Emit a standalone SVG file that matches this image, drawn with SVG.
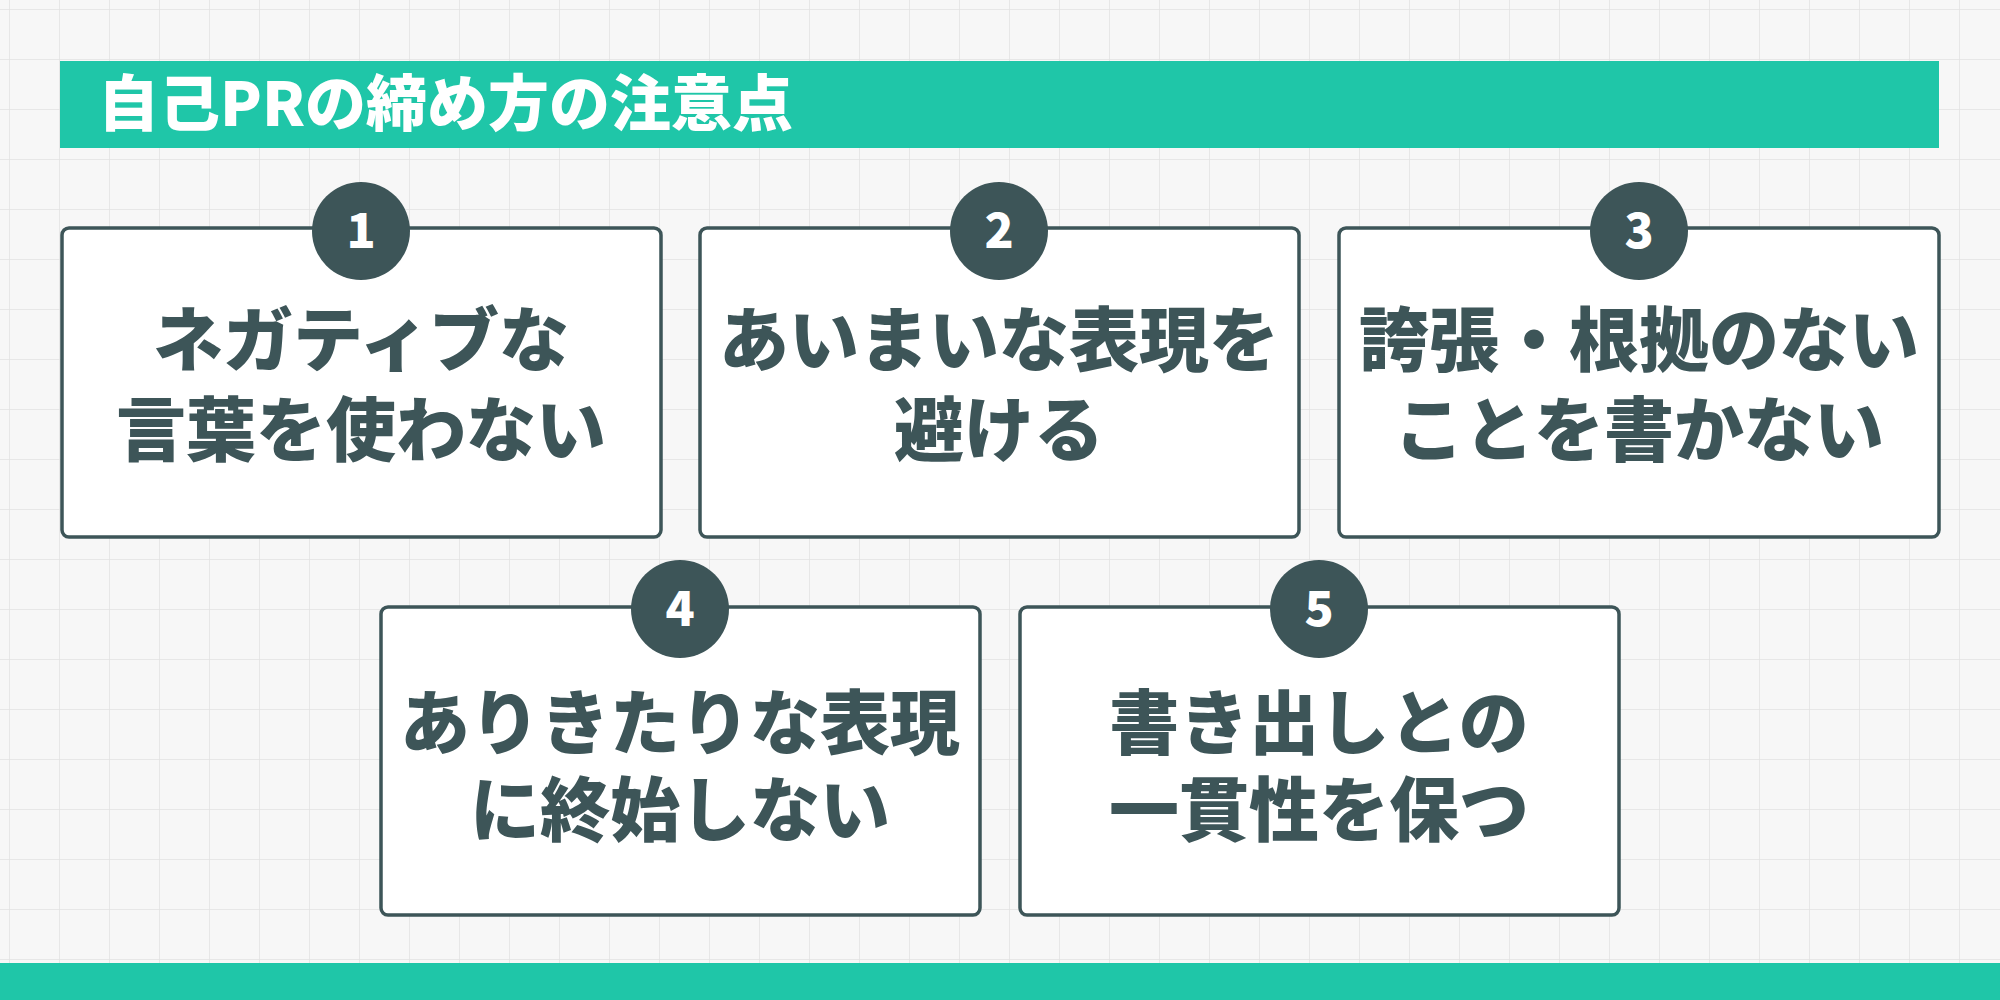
<svg xmlns="http://www.w3.org/2000/svg" width="2000" height="1000" viewBox="0 0 2000 1000">
<defs>
<pattern id="grid" width="50" height="50" patternUnits="userSpaceOnUse" x="10" y="10">
<path d="M50 0V50M0 50H50" fill="none" stroke="#e2e2e2" stroke-width="1.5"/>
</pattern>
<style>
.box{fill:#fff;stroke:#3d5558;stroke-width:3.5}
.num{fill:#3d5558}
.nt{font-family:"Noto Sans CJK JP","Noto Sans",sans-serif;font-weight:900;font-size:48px;fill:#fff;text-anchor:middle}
.t{font-family:"Noto Sans CJK JP",sans-serif;font-weight:900;font-size:70px;fill:#3d5558;text-anchor:middle}
</style>
</defs>
<rect width="2000" height="1000" fill="#f7f7f7"/>
<rect width="2000" height="1000" fill="url(#grid)"/>
<g id="title">
<rect x="60" y="61" width="1879" height="87" fill="#1fc6a8"/>
<text x="98" y="126" font-family="Noto Sans CJK JP,sans-serif" font-weight="900" font-size="61" fill="#fff">自己PRの締め方の注意点</text>
</g>
<g id="node1"><rect class="box" x="62" y="228" width="599" height="309" rx="7"/><circle class="num" cx="361" cy="231" r="49"/><text class="nt" x="361" y="248">1</text><text class="t" x="361" y="366">ネガティブな</text><text class="t" x="361" y="456">言葉を使わない</text></g>
<g id="node2"><rect class="box" x="700" y="228" width="599" height="309" rx="7"/><circle class="num" cx="999" cy="231" r="49"/><text class="nt" x="999" y="248">2</text><text class="t" x="999" y="366">あいまいな表現を</text><text class="t" x="999" y="456">避ける</text></g>
<g id="node3"><rect class="box" x="1339" y="228" width="600" height="309" rx="7"/><circle class="num" cx="1639" cy="231" r="49"/><text class="nt" x="1639" y="248">3</text><text class="t" x="1639" y="366">誇張・根拠のない</text><text class="t" x="1639" y="456">ことを書かない</text></g>
<g id="node4"><rect class="box" x="381" y="607" width="599" height="308" rx="7"/><circle class="num" cx="680" cy="609" r="49"/><text class="nt" x="680" y="626">4</text><text class="t" x="680" y="749">ありきたりな表現</text><text class="t" x="680" y="836">に終始しない</text></g>
<g id="node5"><rect class="box" x="1020" y="607" width="599" height="308" rx="7"/><circle class="num" cx="1319" cy="609" r="49"/><text class="nt" x="1319" y="626">5</text><text class="t" x="1319" y="749">書き出しとの</text><text class="t" x="1319" y="836">一貫性を保つ</text></g>
<g id="connectors"/>
<rect x="0" y="963" width="2000" height="37" fill="#1fc6a8"/>
</svg>
